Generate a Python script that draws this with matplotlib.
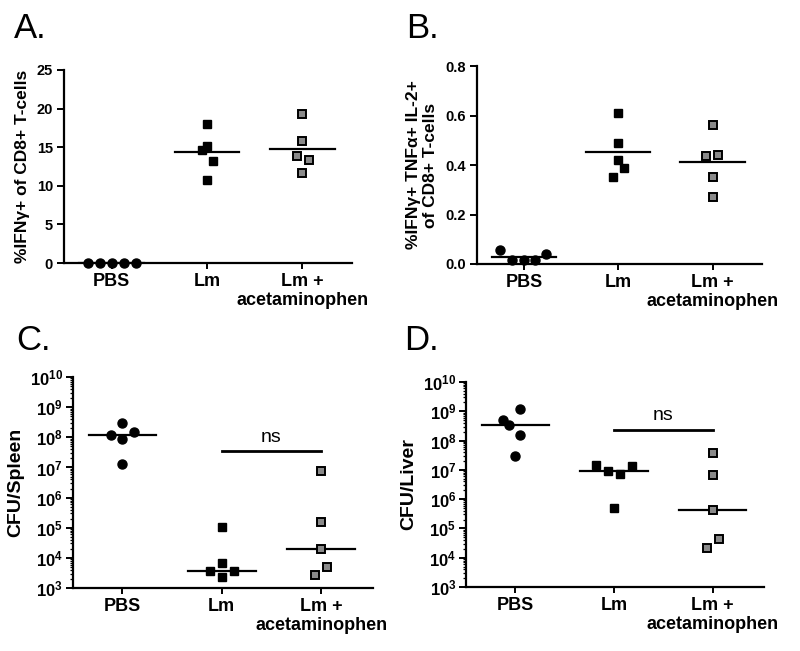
import matplotlib.pyplot as plt
import numpy as np
from matplotlib.ticker import LogLocator, FuncFormatter, NullFormatter

plt.rcParams['font.family'] = ['Liberation Sans', 'DejaVu Sans']
plt.rcParams['mathtext.fontset'] = 'custom'
plt.rcParams['mathtext.rm'] = 'Liberation Sans'
plt.rcParams['mathtext.bf'] = 'Liberation Sans:bold'

groups = ['PBS', 'Lm', 'Lm +\nacetaminophen']

# A. %IFNy+ of CD8+ T-cells
a_pbs = [0, 0, 0, 0, 0]
a_lm = [18.0, 15.2, 14.6, 13.25, 10.8]
a_lma = [19.3, 15.8, 13.8, 13.3, 11.6]

# B. %IFNy+ TNFa+ IL-2+ of CD8+ T-cells
b_pbs = [0.055, 0.017, 0.017, 0.017, 0.042]
b_lm = [0.61, 0.49, 0.42, 0.39, 0.35]
b_lma = [0.56, 0.436, 0.44, 0.35, 0.27]

# C. CFU/Spleen
c_pbs = [2.9e8, 1.2e8, 1.5e8, 9.1e7, 1.26e7]
c_lm = [1.07e5, 6.9e3, 3.7e3, 3.7e3, 2.4e3]
c_lma = [7.8e6, 1.6e5, 2.0e4, 5.0e3, 2.7e3]
c_ns = 3.5e7

# D. CFU/Liver
d_pbs = [1.2e9, 4.9e8, 3.5e8, 1.6e8, 2.9e7]
d_lm = [1.5e7, 9.1e6, 7.4e6, 1.4e7, 5.1e5]
d_lma = [3.7e7, 6.5e6, 4.2e5, 4.2e4, 2.1e4]
d_ns = 2.3e8

log_decades = [3, 4, 5, 6, 7, 8, 9, 10]

# horizontal spread of the points, in category units
a_dx = [[-0.25, -0.125, 0, 0.125, 0.25], [0, 0, -0.05, 0.06, 0], [0, 0, -0.06, 0.07, 0]]
b_dx = [[-0.25, -0.125, 0, 0.12, 0.23], [0, 0, 0, 0.06, -0.06], [0, -0.07, 0.06, 0, 0]]
c_dx = [[0, -0.12, 0.12, 0, 0], [0, 0, -0.12, 0.12, 0], [0, 0, 0, 0.06, -0.06]]
d_dx = [[0.05, -0.12, -0.06, 0.05, 0], [-0.18, -0.06, 0.06, 0.18, 0], [0, 0, 0, 0.06, -0.06]]

styles = [dict(marker='o', color='black', ms=6.5, mec='black'),
          dict(marker='s', color='black', ms=5.5, mec='black'),
          dict(marker='s', color='#8a8a8a', ms=6.3, mec='black', mew=1.4)]

fig = plt.figure(figsize=(8, 6.51), dpi=100)


def panel(rect, sets, dx, stat, ylabel, letter, letter_xy, log=False):
    ax = fig.add_axes(rect)
    for i, (vals, offs) in enumerate(zip(sets, dx)):
        x = i + np.array(offs)
        ax.plot(x, vals, linestyle='none', clip_on=False, zorder=3, **styles[i])
        if stat == 'mean':
            c = np.mean(vals)
        else:
            c = 10 ** np.median(np.log10(vals))
        ax.plot([i - 0.34, i + 0.34], [c, c], color='black', lw=1.6, zorder=2)
    ax.set_xlim(-0.5, 2.52)
    ax.set_xticks([0, 1, 2])
    ax.set_xticklabels(groups, fontsize=13, fontweight='bold', linespacing=1.15)
    for s in ['top', 'right']:
        ax.spines[s].set_visible(False)
    for s in ['left', 'bottom']:
        ax.spines[s].set_linewidth(1.6)
    ax.tick_params(axis='x', length=4, width=1.4, pad=3.5)
    ax.tick_params(axis='y', length=5, width=1.4, pad=3)
    if log:
        ax.set_yscale('log')
        ax.set_ylim(1e3, 1e10)
        ax.set_yticks([10.0 ** d for d in log_decades])
        ax.yaxis.set_major_formatter(FuncFormatter(
            lambda v, p: r'$\mathbf{10^{%d}}$' % int(round(np.log10(v)))))
        ax.yaxis.set_minor_locator(LogLocator(base=10, subs=np.arange(2, 10), numticks=20))
        ax.yaxis.set_minor_formatter(NullFormatter())
        ax.tick_params(axis='y', which='minor', length=2.5, width=0.9)
        ax.tick_params(axis='y', labelsize=12, pad=2)
        ax.set_ylim(1e3, 1e10)
        ax.set_ylabel(ylabel, fontsize=14, fontweight='bold', labelpad=4)
    else:
        ax.tick_params(axis='y', labelsize=10.5)
        ax.set_ylabel(ylabel, fontsize=12.5, fontweight='bold', labelpad=5)
    fig.text(letter_xy[0], letter_xy[1], letter, fontsize=25)
    return ax


axA = panel([0.08, 0.596, 0.36, 0.2965], [a_pbs, a_lm, a_lma], a_dx, 'mean',
            '%IFNγ+ of CD8+ T-cells', 'A.', (0.018, 0.942))
axA.set_ylim(0, 25)
axA.set_yticks([0, 5, 10, 15, 20, 25])
axA.set_yticklabels(['0', '5', '10', '15', '20', '25'], fontweight='bold')

axB = panel([0.596, 0.5945, 0.356, 0.304], [b_pbs, b_lm, b_lma], b_dx, 'mean',
            '%IFNγ+ TNFα+ IL-2+\nof CD8+ T-cells', 'B.', (0.508, 0.942))
axB.set_ylim(0, 0.8)
axB.set_yticks([0.0, 0.2, 0.4, 0.6, 0.8])
axB.set_yticklabels(['0.0', '0.2', '0.4', '0.6', '0.8'], fontweight='bold')

axC = panel([0.091, 0.0968, 0.375, 0.324], [c_pbs, c_lm, c_lma], c_dx, 'median',
            'CFU/Spleen', 'C.', (0.02, 0.462), log=True)
axC.plot([1, 2], [c_ns, c_ns], color='black', lw=2)
axC.annotate('ns', (1.5, c_ns), xytext=(0, 4), textcoords='offset points',
             ha='center', va='bottom', fontsize=14)

axD = panel([0.5825, 0.0983, 0.3725, 0.315], [d_pbs, d_lm, d_lma], d_dx, 'median',
            'CFU/Liver', 'D.', (0.505, 0.462), log=True)
axD.plot([1, 2], [d_ns, d_ns], color='black', lw=2)
axD.annotate('ns', (1.5, d_ns), xytext=(0, 4), textcoords='offset points',
             ha='center', va='bottom', fontsize=14)

fig.savefig('out.png', dpi=100)
